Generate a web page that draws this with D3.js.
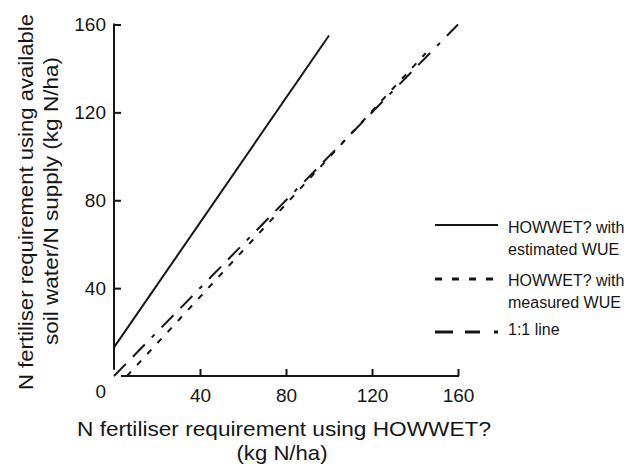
<!DOCTYPE html>
<html>
<head>
<meta charset="utf-8">
<script src="https://cdn.jsdelivr.net/npm/d3@7"></script>
<style>
  html, body { margin: 0; padding: 0; background: #fff; }
  svg { display: block; font-family: "Liberation Sans", Arial, Helvetica, sans-serif; }
</style>
</head>
<body>
<svg id="chart" width="632" height="466"></svg>
<script>
// ---- data ----
const xTickValues = [40, 80, 120, 160];
const yTickValues = [40, 80, 120, 160];

const estimatedX = [0, 100];     // HOWWET? with estimated WUE
const estimatedY = [13, 155];
const measuredX = [6, 145];      // HOWWET? with measured WUE
const measuredY = [0, 147];
const oneToOneX = [0, 160];      // 1:1 line
const oneToOneY = [0, 160];

const legendLabels = [
  ["HOWWET? with", "estimated WUE"],
  ["HOWWET? with", "measured WUE"],
  ["1:1 line"]
];

// ---- chart ----
const svg = d3.select("#chart");
const ink = "#161616";

const x = d3.scaleLinear().domain([0, 160]).range([114, 458]);
const y = d3.scaleLinear().domain([0, 160]).range([376, 24.5]);

// axes
const xAxis = d3.axisBottom(x).tickValues(xTickValues).tickSizeInner(-7).tickSizeOuter(0).tickPadding(13);
const yAxis = d3.axisLeft(y).tickValues(yTickValues).tickSizeInner(-7).tickSizeOuter(0).tickPadding(8);

const gx = svg.append("g").attr("transform", `translate(0,${y(0)})`).call(xAxis);
const gy = svg.append("g").attr("transform", `translate(${x(0)},0)`).call(yAxis);
[gx, gy].forEach(g => {
  g.select(".domain").remove();
  g.selectAll(".tick line").attr("stroke", ink).attr("stroke-width", 2);
  g.selectAll(".tick text").attr("fill", ink).attr("font-size", 19)
    .attr("font-family", '"Liberation Sans", Arial, sans-serif');
});

// axis lines (not meeting at origin, as in the reference)
svg.append("line")
  .attr("x1", x(0)).attr("x2", x(0))
  .attr("y1", y(160) - 1).attr("y2", y(2.8))
  .attr("stroke", ink).attr("stroke-width", 2);
svg.append("line")
  .attr("x1", x(3.2)).attr("x2", x(160) + 1)
  .attr("y1", y(0)).attr("y2", y(0))
  .attr("stroke", ink).attr("stroke-width", 2);

// shared origin label
svg.append("text")
  .attr("x", 106).attr("y", 398)
  .attr("text-anchor", "end").attr("font-size", 19).attr("fill", ink)
  .text("0");

// series lines
const line = d3.line().x(d => x(d[0])).y(d => y(d[1]));
const zip = (a, b) => a.map((v, i) => [v, b[i]]);

const series = [
  { pts: zip(estimatedX, estimatedY), dash: null },
  { pts: zip(measuredX, measuredY), dash: "6,9" },
  { pts: zip(oneToOneX, oneToOneY), dash: "17,10,17,10,4,10" }
];

svg.append("g").selectAll("path").data(series).join("path")
  .attr("d", d => line(d.pts))
  .attr("fill", "none")
  .attr("stroke", ink)
  .attr("stroke-width", 2)
  .attr("stroke-dasharray", d => d.dash);

// legend
const legendY = [225, 279, 332];
const legendDash = [null, "7,10", "18,12,15,14,4,40"];
const lg = svg.append("g");
legendY.forEach((ly, i) => {
  lg.append("line")
    .attr("x1", 435).attr("x2", 498)
    .attr("y1", ly).attr("y2", ly)
    .attr("stroke", ink)
    .attr("stroke-width", i === 0 ? 2 : 3)
    .attr("stroke-dasharray", legendDash[i]);
});
const legendBaselines = [[233, 255], [286, 308], [335]];
legendLabels.forEach((lines, i) => {
  lines.forEach((t, j) => {
    lg.append("text")
      .attr("x", 508).attr("y", legendBaselines[i][j])
      .attr("font-size", 16).attr("fill", ink)
      .text(t);
  });
});

// axis titles
svg.append("text")
  .attr("x", 284).attr("y", 436)
  .attr("text-anchor", "middle").attr("font-size", 21).attr("fill", ink)
  .attr("textLength", 414).attr("lengthAdjust", "spacingAndGlyphs")
  .text("N fertiliser requirement using HOWWET?");
svg.append("text")
  .attr("x", 282).attr("y", 460)
  .attr("text-anchor", "middle").attr("font-size", 21).attr("fill", ink)
  .attr("textLength", 91).attr("lengthAdjust", "spacingAndGlyphs")
  .text("(kg N/ha)");

svg.append("text")
  .attr("transform", "translate(33,202) rotate(-90)")
  .attr("text-anchor", "middle").attr("font-size", 21).attr("fill", ink)
  .attr("textLength", 376).attr("lengthAdjust", "spacingAndGlyphs")
  .text("N fertiliser requirement using available");
svg.append("text")
  .attr("transform", "translate(58,201) rotate(-90)")
  .attr("text-anchor", "middle").attr("font-size", 21).attr("fill", ink)
  .attr("textLength", 288).attr("lengthAdjust", "spacingAndGlyphs")
  .text("soil water/N supply (kg N/ha)");
</script>
</body>
</html>
